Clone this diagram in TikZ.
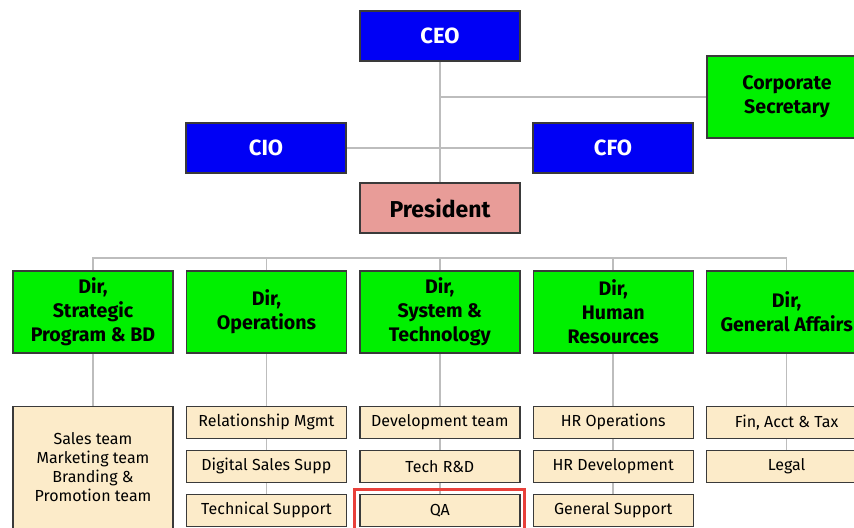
\documentclass[tikz,border=0pt]{standalone}
\usepackage{fontspec}
\setmainfont{Fira Sans}
\usetikzlibrary{positioning, fit, backgrounds}

\definecolor{topblue}{HTML}{0000F5}
\definecolor{dirgreen}{HTML}{00F000}
\definecolor{prespink}{HTML}{E89C98}
\definecolor{teamcream}{HTML}{FCEBC9}
\definecolor{boxline}{HTML}{3A3A3A}
\definecolor{linkgray}{HTML}{BDBDBD}
\definecolor{markred}{HTML}{E8403A}

\begin{document}
\begin{tikzpicture}[
        x=0.5pt, y=-0.5pt,
        node distance=5.3pt and 6pt,
        box/.style={draw=boxline, line width=0.7pt, minimum width=80pt, align=center, inner sep=1pt},
        bluebox/.style={box, fill=topblue, text=white, minimum height=25pt, font=\bfseries\fontsize{11}{13}\selectfont},
        greenbox/.style={box, fill=dirgreen, minimum height=41pt, font=\bfseries\fontsize{9.8}{12}\selectfont},
        pinkbox/.style={box, fill=prespink, minimum height=25pt, font=\bfseries\fontsize{11.5}{13}\selectfont},
        teambox/.style={box, fill=teamcream, minimum height=16pt, font=\fontsize{8}{9.5}\selectfont},
        link/.style={draw=linkgray, line width=0.8pt}
    ]
    \useasboundingbox (0,0) rectangle (854,527);

    % Top level
    \node[bluebox] (ceo) at (440,36) {CEO};
    \node[greenbox] (sec) at (787,97) {Corporate\\Secretary};
    \node[bluebox] (cio) at (266,148) {CIO};
    \node[bluebox] (cfo) at (613,148) {CFO};
    \node[pinkbox] (pres) at (440,208) {President};

    % Directors
    \node[greenbox] (dir1) at (93,312) {Dir,\\Strategic\\Program \& BD};
    \node[greenbox, right=of dir1] (dir2) {Dir,\\Operations};
    \node[greenbox, right=of dir2] (dir3) {Dir,\\System \&\\Technology};
    \node[greenbox, right=of dir3] (dir4) {Dir,\\Human\\Resources};
    \node[greenbox, right=of dir4] (dir5) {Dir,\\General Affairs};

    % Teams
    \node[teambox, below=26pt of dir1, minimum height=61pt] (sales) {Sales team\\Marketing team\\Branding \&\\Promotion team};
    \node[teambox, below=26pt of dir2] (relmgmt) {Relationship Mgmt};
    \node[teambox, below=of relmgmt] (digsales) {Digital Sales Supp};
    \node[teambox, below=of digsales] (techsup) {Technical Support};
    \node[teambox, below=26pt of dir3] (devteam) {Development team};
    \node[teambox, below=of devteam] (techrd) {Tech R\&D};
    \node[teambox, below=of techrd] (qa) {QA};
    \node[teambox, below=26pt of dir4] (hrops) {HR Operations};
    \node[teambox, below=of hrops] (hrdev) {HR Development};
    \node[teambox, below=of hrdev] (gensup) {General Support};
    \node[teambox, below=26pt of dir5] (finacct) {Fin, Acct \& Tax};
    \node[teambox, below=of finacct] (legal) {Legal};
    \node[fit=(qa), inner sep=2.2pt, draw=markred, line width=1.5pt] (qamark) {};

    % Connectors
    \begin{scope}[on background layer]
        \coordinate (bus) at (440,258);
        \draw[link] (ceo) -- (pres);
        \draw[link] (sec.west) -- (sec.west -| ceo);
        \draw[link] (cio) -- (cfo);
        \foreach \d in {dir1,dir2,dir3,dir4,dir5}
            \draw[link] (\d.north) |- (bus);
        \draw[link] (dir1) -- (sales);
        \draw[link] (dir2) -- (techsup);
        \draw[link] (dir3) -- (qa);
        \draw[link] (dir4) -- (gensup);
        \draw[link] (dir5) -- (legal);
    \end{scope}

\end{tikzpicture}
\end{document}
